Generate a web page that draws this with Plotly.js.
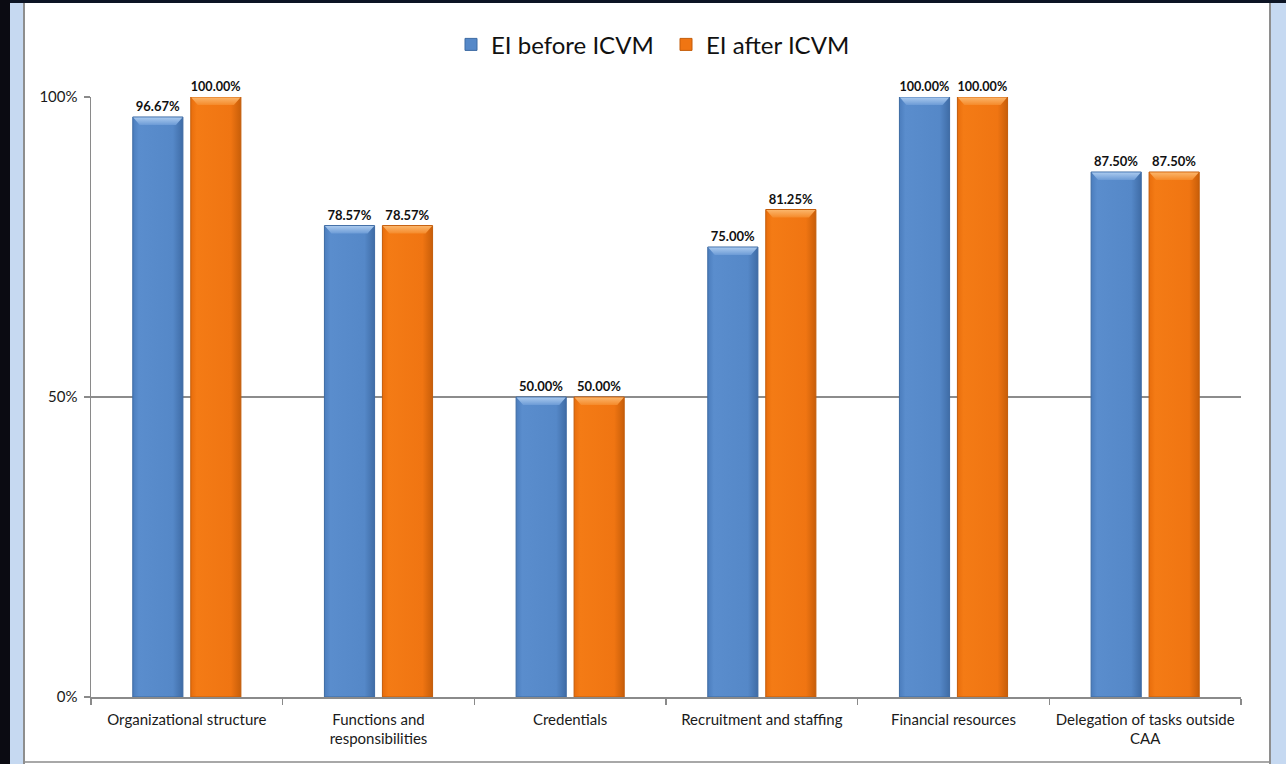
<!DOCTYPE html>
<html>
<head>
<meta charset="utf-8">
<script src="https://cdn.plot.ly/plotly-3.0.1.min.js"></script>
<style>
  html, body { margin: 0; padding: 0; width: 1286px; height: 764px; overflow: hidden; background: #ffffff; }
  #frame-left-dark { position: absolute; left: 0; top: 0; width: 10px; height: 764px; background: #0b0b12; }
  #frame-left-blue { position: absolute; left: 10px; top: 3px; width: 13px; height: 761px; background: #c6d9f1; }
  #frame-left-line { position: absolute; left: 23px; top: 3px; width: 2px; height: 761px; background: #8e8e8e; }
  #frame-top { position: absolute; left: 0; top: 0; width: 1286px; height: 3px; background: #0c1424; }
  #frame-right-line { position: absolute; left: 1269px; top: 3px; width: 2px; height: 761px; background: #8e8e8e; }
  #frame-right-blue { position: absolute; left: 1271px; top: 3px; width: 15px; height: 761px; background: #c6d9f1; }
  #frame-bottom { position: absolute; left: 25px; top: 761px; width: 1244px; height: 2px; background: #a8a8a8; }
  #chart { position: absolute; left: 0; top: 0; width: 1286px; height: 764px; }
</style>
</head>
<body>
<div id="frame-top"></div>
<div id="frame-left-dark"></div>
<div id="frame-left-blue"></div>
<div id="frame-left-line"></div>
<div id="frame-right-line"></div>
<div id="frame-right-blue"></div>
<div id="frame-bottom"></div>
<div id="chart"></div>
<script>
// Categories of the assessment
const categories = [
  "Organizational structure",
  "Functions and<br>responsibilities",
  "Credentials",
  "Recruitment and staffing",
  "Financial resources",
  "Delegation of tasks outside<br>CAA"
];

// Effective implementation shares (fractions)
const eiBefore = [0.9667, 0.7857, 0.50, 0.75, 1.00, 0.875];
const eiAfter  = [1.00, 0.7857, 0.50, 0.8125, 1.00, 0.875];

// Series names
const seriesNames = ["EI before ICVM", "EI after ICVM"];

// Y-axis ticks
const yTickVals = [0, 0.5, 1];
const yTickText = ["0%", "50%", "100%"];

const baseFont = "Lato, 'Open Sans', sans-serif";

const traces = [
  {
    type: "bar",
    name: seriesNames[0],
    x: categories,
    y: eiBefore,
    marker: { color: "#5588c8", line: { color: "#3d6aa3", width: 1 } },
    texttemplate: "%{y:.2%}",
    textposition: "outside",
    textfont: { family: baseFont, size: 13, color: "#111111", weight: "bold" },
    cliponaxis: false,
    hoverinfo: "skip"
  },
  {
    type: "bar",
    name: seriesNames[1],
    x: categories,
    y: eiAfter,
    marker: { color: "#f07512", line: { color: "#c35c0a", width: 1 } },
    texttemplate: "%{y:.2%}",
    textposition: "outside",
    textfont: { family: baseFont, size: 13, color: "#111111", weight: "bold" },
    cliponaxis: false,
    hoverinfo: "skip"
  }
];

const layout = {
  width: 1286,
  height: 764,
  paper_bgcolor: "rgba(0,0,0,0)",
  plot_bgcolor: "rgba(0,0,0,0)",
  margin: { l: 91, r: 45, t: 97, b: 67, pad: 0 },
  font: { family: baseFont, size: 14, color: "#1a1a1a" },
  barmode: "group",
  bargap: 0.395,
  bargroupgap: 0.135,
  showlegend: true,
  legend: {
    orientation: "h",
    x: 0.5,
    xanchor: "center",
    y: 1.087,
    yanchor: "middle",
    font: { family: baseFont, size: 24, color: "#111111" },
    itemwidth: 30,
    entrywidth: 170,
    traceorder: "normal"
  },
  xaxis: {
    type: "category",
    showline: true,
    linecolor: "#8a8a8a",
    linewidth: 1.5,
    ticks: "outside",
    tickson: "boundaries",
    ticklen: 6,
    tickcolor: "#8a8a8a",
    tickwidth: 1.5,
    showgrid: false,
    ticklabelstandoff: 8,
    tickfont: { family: baseFont, size: 15, color: "#1a1a1a" },
    automargin: false
  },
  yaxis: {
    range: [0, 1],
    tickvals: yTickVals,
    ticktext: yTickText,
    showline: true,
    linecolor: "#8a8a8a",
    linewidth: 1.5,
    ticks: "outside",
    ticklen: 6,
    tickcolor: "#8a8a8a",
    tickwidth: 1.5,
    showgrid: true,
    gridcolor: "#8c8c8c",
    gridwidth: 1.5,
    zeroline: false,
    ticklabelstandoff: 3,
    tickfont: { family: baseFont, size: 15, color: "#1a1a1a" },
    automargin: false
  }
};

Plotly.newPlot("chart", traces, layout, { staticPlot: true, displayModeBar: false }).then(function (gd) {
  // Bar shading: rounded horizontal tone plus a light bevel on the top of each bar
  const svg = gd.querySelector("svg.main-svg");
  const ns = "http://www.w3.org/2000/svg";
  const defs = document.createElementNS(ns, "defs");
  function addGrad(id, vertical, stops) {
    const g = document.createElementNS(ns, "linearGradient");
    g.setAttribute("id", id);
    g.setAttribute("x1", "0"); g.setAttribute("y1", "0");
    g.setAttribute("x2", vertical ? "0" : "1"); g.setAttribute("y2", vertical ? "1" : "0");
    stops.forEach(function (s) {
      const st = document.createElementNS(ns, "stop");
      st.setAttribute("offset", s[0]);
      st.setAttribute("stop-color", s[1]);
      g.appendChild(st);
    });
    defs.appendChild(g);
  }
  addGrad("barShadeBlue", false, [["0", "#4b7dbd"], ["0.12", "#5a8dcd"], ["0.8", "#5588c8"], ["1", "#3f6ca6"]]);
  addGrad("barShadeOrange", false, [["0", "#e86d0c"], ["0.12", "#f47b15"], ["0.8", "#f07512"], ["1", "#c85e09"]]);
  addGrad("bevelBlue", true, [["0", "#a9c9ee"], ["1", "#6c9bd6"]]);
  addGrad("bevelOrange", true, [["0", "#fbb56a"], ["1", "#f58a2a"]]);
  svg.insertBefore(defs, svg.firstChild);

  const fills = ["url(#barShadeBlue)", "url(#barShadeOrange)"];
  const bevels = ["url(#bevelBlue)", "url(#bevelOrange)"];
  gd.querySelectorAll(".barlayer .trace").forEach(function (grp, i) {
    grp.querySelectorAll("path").forEach(function (p) {
      p.style.fill = fills[i % 2];
      const b = p.getBBox();
      if (b.width <= 0 || b.height <= 0) return;
      const inset = Math.min(7, b.width / 6);
      const depth = Math.min(8, b.height / 4);
      const bevel = document.createElementNS(ns, "path");
      bevel.setAttribute("d",
        "M" + (b.x + 0.5) + "," + (b.y + 0.5) +
        "H" + (b.x + b.width - 0.5) +
        "L" + (b.x + b.width - inset) + "," + (b.y + depth) +
        "H" + (b.x + inset) + "Z");
      bevel.style.fill = bevels[i % 2];
      bevel.style.stroke = "none";
      p.parentNode.insertBefore(bevel, p.nextSibling);
    });
  });
});
</script>
</body>
</html>
